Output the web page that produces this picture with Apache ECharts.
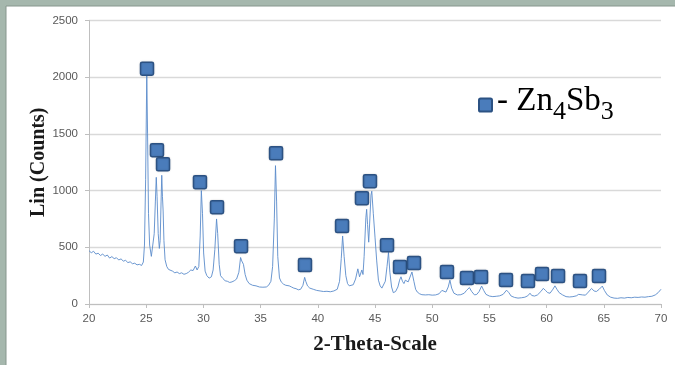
<!DOCTYPE html>
<html>
<head>
<meta charset="utf-8">
<script src="https://cdn.jsdelivr.net/npm/echarts@6/dist/echarts.min.js"></script>
<style>
  html, body { margin: 0; padding: 0; background: #a5b7ad; }
  #chart { width: 675px; height: 365px; }
</style>
</head>
<body>
<div id="chart"></div>
<script>
// XRD pattern: 2-theta (deg) and intensity (counts)
const twoTheta = [
  20.0, 20.2, 20.4, 20.6, 20.8, 21.0, 21.2, 21.4, 21.6, 21.8, 22.0, 22.2, 22.4, 22.6, 22.8,
  23.0, 23.2, 23.4, 23.6, 23.8, 24.0, 24.2, 24.4, 24.6, 24.75, 24.85, 24.95, 25.05, 25.12, 25.2,
  25.3, 25.45, 25.55, 25.7, 25.8, 25.88, 25.95, 26.05, 26.15, 26.22, 26.3, 26.36, 26.42, 26.48, 26.55,
  26.65, 26.8, 26.95, 27.1, 27.3, 27.5, 27.7, 27.9, 28.1, 28.3, 28.5, 28.7, 28.9, 29.1, 29.3,
  29.45, 29.6, 29.72, 29.82, 29.92, 30.02, 30.15, 30.3, 30.5, 30.7, 30.85, 31.0, 31.15, 31.25, 31.38,
  31.5, 31.7, 31.9, 32.1, 32.3, 32.5, 32.7, 32.9, 33.1, 33.25, 33.35, 33.5, 33.65, 33.8, 34.0,
  34.3, 34.6, 34.9, 35.2, 35.5, 35.7, 35.9, 36.05, 36.2, 36.3, 36.4, 36.5, 36.65, 36.8, 37.0,
  37.2, 37.5, 37.7, 37.9, 38.1, 38.3, 38.5, 38.7, 38.85, 38.95, 39.1, 39.3, 39.6, 39.9, 40.2,
  40.5, 40.8, 41.1, 41.4, 41.7, 41.9, 42.05, 42.17, 42.3, 42.45, 42.6, 42.75, 42.9, 43.1, 43.3,
  43.5, 43.65, 43.75, 43.85, 43.95, 44.05, 44.2, 44.27, 44.35, 44.45, 44.55, 44.65, 44.72, 44.85, 45.0,
  45.15, 45.3, 45.45, 45.6, 45.75, 45.9, 46.05, 46.18, 46.3, 46.45, 46.6, 46.8, 47.0, 47.15, 47.27,
  47.4, 47.53, 47.65, 47.77, 47.9, 48.05, 48.23, 48.4, 48.55, 48.7, 48.9, 49.1, 49.4, 49.7, 50.0,
  50.3, 50.6, 50.85, 51.0, 51.2, 51.4, 51.55, 51.7, 51.9, 52.2, 52.5, 52.8, 53.0, 53.25, 53.45,
  53.7, 53.9, 54.1, 54.32, 54.5, 54.7, 55.0, 55.3, 55.6, 55.9, 56.2, 56.5, 56.7, 56.9, 57.2,
  57.5, 57.8, 58.1, 58.35, 58.55, 58.7, 58.95, 59.2, 59.5, 59.71, 59.9, 60.1, 60.3, 60.55, 60.73,
  60.9, 61.1, 61.4, 61.7, 62.0, 62.3, 62.6, 62.8, 62.97, 63.15, 63.4, 63.65, 63.93, 64.15, 64.35,
  64.6, 64.87, 65.05, 65.3, 65.6, 65.9, 66.2, 66.5, 66.8, 67.1, 67.4, 67.7, 68.0, 68.3, 68.6,
  68.9, 69.2, 69.5, 69.75, 70.0
];
const counts = [
  470, 452, 465, 440, 448, 428, 440, 420, 432, 405, 418, 400, 408, 388, 398,
  378, 385, 365, 372, 355, 360, 345, 350, 340, 370, 520, 1100, 2030, 1500, 800,
  520, 420, 430, 620, 900, 1117, 950, 620, 490, 560, 900, 1135, 950, 820, 560,
  390, 330, 305, 295, 290, 275, 282, 268, 275, 262, 268, 280, 300, 295, 335,
  300, 330, 600, 1000, 800, 450, 290, 250, 228, 240, 300, 480, 750, 620, 350,
  250, 225, 205, 200, 190, 195, 205, 220, 280, 410, 380, 350, 260, 210, 180,
  165, 160, 150, 148, 150, 165, 200, 330, 750, 1220, 900, 420, 230, 195, 175,
  165, 160, 150, 140, 135, 125, 130, 165, 235, 200, 160, 140, 130, 120, 115,
  110, 112, 108, 115, 130, 200, 400, 600, 420, 250, 180, 160, 150, 170, 220,
  310, 240, 224, 300, 260, 420, 760, 835, 700, 545, 750, 960, 995, 800, 590,
  380, 210, 160, 140, 150, 200, 330, 455, 280, 150, 100, 110, 150, 210, 240,
  200, 180, 210, 225, 195, 210, 282, 200, 130, 105, 90, 82, 80, 82, 78,
  80, 90, 120, 125, 105, 150, 210, 140, 95, 80, 82, 95, 120, 145, 110,
  80, 85, 110, 158, 120, 85, 70, 65, 68, 72, 85, 122, 100, 70, 58,
  52, 55, 60, 72, 95, 75, 70, 80, 110, 138, 120, 100, 95, 130, 160,
  130, 100, 80, 65, 62, 65, 72, 85, 100, 80, 78, 105, 137, 115, 110,
  130, 158, 120, 80, 60, 52, 50, 55, 52, 58, 55, 60, 58, 62, 60,
  65, 68, 80, 100, 130
];

// Zn4Sb3 reflection markers
const peakTheta = [25.07, 25.94, 26.47, 29.70, 31.19, 33.29, 36.35, 38.88, 42.12, 43.86, 44.56, 46.05,
  47.19, 48.41, 51.29, 53.04, 54.27, 56.45, 58.37, 59.60, 61.00, 62.92, 64.58];
const peakCounts = [2075, 1356, 1232, 1074, 854, 510, 1329, 343, 687, 933, 1083, 519,
  326, 361, 282, 229, 238, 211, 202, 264, 246, 202, 246];

const xTicks = { min: 20, max: 70, step: 5 };
const yTicks = { min: 0, max: 2500, step: 500 };

const spectrum = twoTheta.map((t, i) => [t, counts[i]]);
const peaks = peakTheta.map((t, i) => [t, peakCounts[i]]);

// square marker with slightly softened corners
const squareMark = 'path://M1.5,0 H10.5 Q12,0 12,1.5 V10.5 Q12,12 10.5,12 H1.5 Q0,12 0,10.5 V1.5 Q0,0 1.5,0 Z';

const chart = echarts.init(document.getElementById('chart'), null, { renderer: 'canvas' });

const tickFont = { fontFamily: 'Liberation Sans', fontSize: 11.5, color: '#595959' };
const titleFont = { fontFamily: 'Liberation Serif', fontWeight: 'bold', fontSize: 20, color: '#1a1a1a' };

chart.setOption({
  backgroundColor: '#a5b7ad',
  animation: false,
  graphic: [
    {
      type: 'rect',
      z: -10,
      shape: { x: 6, y: 6, width: 680, height: 370 },
      style: { fill: '#ffffff', stroke: '#86968d', lineWidth: 1 }
    }
  ],
  grid: { left: 89, right: 14, top: 20.5, bottom: 61 },
  legend: {
    data: ['Zn4Sb3'],
    left: 478,
    top: 85,
    padding: 0,
    icon: squareMark,
    itemWidth: 13,
    itemHeight: 13,
    itemGap: 4,
    formatter: () => '{m|- Zn}{s|4}{m|Sb}{s|3}',
    textStyle: {
      fontFamily: 'Liberation Serif',
      fontSize: 33,
      color: '#000',
      rich: {
        m: { fontFamily: 'Liberation Serif', fontSize: 33, lineHeight: 40, verticalAlign: 'top', color: '#000' },
        s: { fontFamily: 'Liberation Serif', fontSize: 26, lineHeight: 18, verticalAlign: 'bottom', color: '#000' }
      }
    }
  },
  xAxis: {
    type: 'value',
    min: xTicks.min,
    max: xTicks.max,
    interval: xTicks.step,
    name: '2-Theta-Scale',
    nameLocation: 'middle',
    nameGap: 30,
    nameTextStyle: Object.assign({}, titleFont, { fontSize: 21 }),
    axisLine: { show: true, lineStyle: { color: '#bfbfbf', width: 1 } },
    axisTick: { show: true, length: 4, lineStyle: { color: '#bfbfbf' } },
    axisLabel: Object.assign({ margin: 9, formatter: v => String(v) }, tickFont),
    splitLine: { show: false }
  },
  yAxis: {
    type: 'value',
    min: yTicks.min,
    max: yTicks.max,
    interval: yTicks.step,
    name: 'Lin (Counts)',
    nameLocation: 'middle',
    nameGap: 40,
    nameMoveOverlap: false,
    nameTextStyle: titleFont,
    axisLine: { show: true, lineStyle: { color: '#bfbfbf', width: 1 } },
    axisTick: { show: true, length: 4, lineStyle: { color: '#bfbfbf' } },
    axisLabel: Object.assign({ margin: 11, formatter: v => String(v) }, tickFont),
    splitLine: { show: true, lineStyle: { color: '#d9d9d9', width: 1.3 } }
  },
  series: [
    {
      name: 'pattern',
      type: 'line',
      data: spectrum,
      showSymbol: false,
      symbol: 'none',
      lineStyle: { color: '#5b8ccb', width: 1, opacity: 0.9 },
      z: 2
    },
    {
      name: 'Zn4Sb3',
      type: 'scatter',
      data: peaks,
      symbol: squareMark,
      symbolSize: 13,
      itemStyle: {
        color: '#4a7cbb',
        borderColor: '#2c5283',
        borderWidth: 1.5,
        opacity: 1,
        shadowColor: 'rgba(0,0,0,0.15)',
        shadowBlur: 2
      },
      z: 3
    }
  ]
});
</script>
</body>
</html>
